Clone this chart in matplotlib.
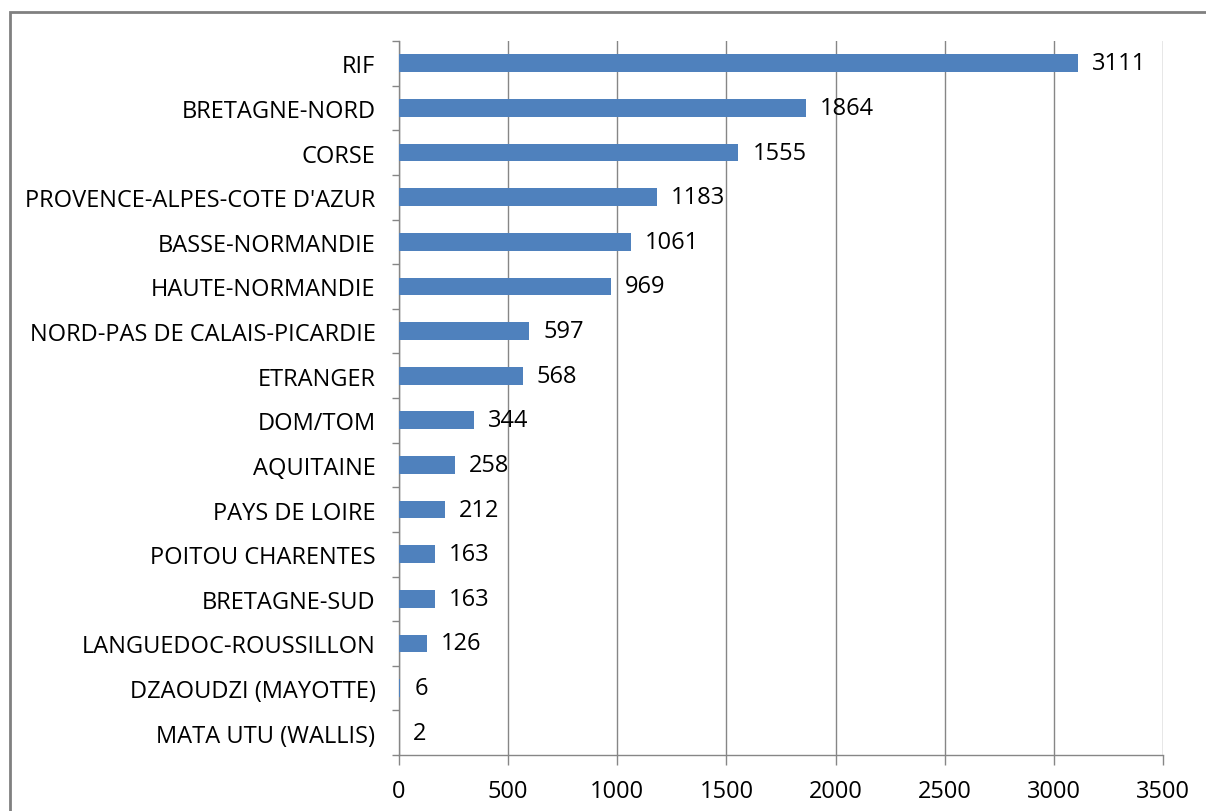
import matplotlib
matplotlib.use("Agg")
import matplotlib.pyplot as plt
from matplotlib.patches import Rectangle
import numpy as np

categories = ["RIF", "BRETAGNE-NORD", "CORSE", "PROVENCE-ALPES-COTE D'AZUR",
              "BASSE-NORMANDIE", "HAUTE-NORMANDIE", "NORD-PAS DE CALAIS-PICARDIE",
              "ETRANGER", "DOM/TOM", "AQUITAINE", "PAYS DE LOIRE", "POITOU CHARENTES",
              "BRETAGNE-SUD", "LANGUEDOC-ROUSSILLON", "DZAOUDZI (MAYOTTE)", "MATA UTU (WALLIS)"]
values = [3111, 1864, 1555, 1183, 1061, 969, 597, 568, 344, 258, 212, 163, 163, 126, 6, 2]
xticks = [0, 500, 1000, 1500, 2000, 2500, 3000, 3500]

plt.rcParams['font.family'] = ['Open Sans', 'DejaVu Sans']
W, H = 1206, 812
fig = plt.figure(figsize=(W/100, H/100), dpi=100)
ax = fig.add_axes([399/W, 1-756/H, (1163-399)/W, (756-42)/H])

grid_c = '#868686'
fs = 17
n = len(categories)
y = np.arange(n)
ax.barh(y, values, height=0.4, color='#4F81BD', zorder=3)
ax.set_ylim(n-0.5, -0.5)
ax.set_xlim(0, 3500)
ax.set_xticks(xticks)
ax.set_xticklabels([str(t) for t in xticks], fontsize=fs)
ax.set_yticks(y)
ax.set_yticklabels(categories, fontsize=fs)
ax.set_yticks(np.arange(n+1)-0.5, minor=True)
ax.tick_params(axis='y', which='major', length=0, pad=17)
ax.tick_params(axis='y', which='minor', length=5, color=grid_c, width=1)
ax.tick_params(axis='x', which='major', length=7, color=grid_c, width=1, pad=10)
ax.xaxis.grid(True, color=grid_c, linewidth=1, zorder=0)
for s in ['top', 'right']:
    ax.spines[s].set_visible(False)
for s in ['left', 'bottom']:
    ax.spines[s].set_color(grid_c)
    ax.spines[s].set_linewidth(1)

for yi, v in zip(y, values):
    ax.annotate(str(v), (v, yi), xytext=(10, 0), textcoords='offset points',
                va='center', ha='left', fontsize=fs, color='black')

fig.patches.append(Rectangle((10/W, -0.1), 1.2, 1 - 13/H + 0.1, transform=fig.transFigure,
                             fill=False, edgecolor='#808080', linewidth=2))
fig.savefig('out.png', dpi=100)
